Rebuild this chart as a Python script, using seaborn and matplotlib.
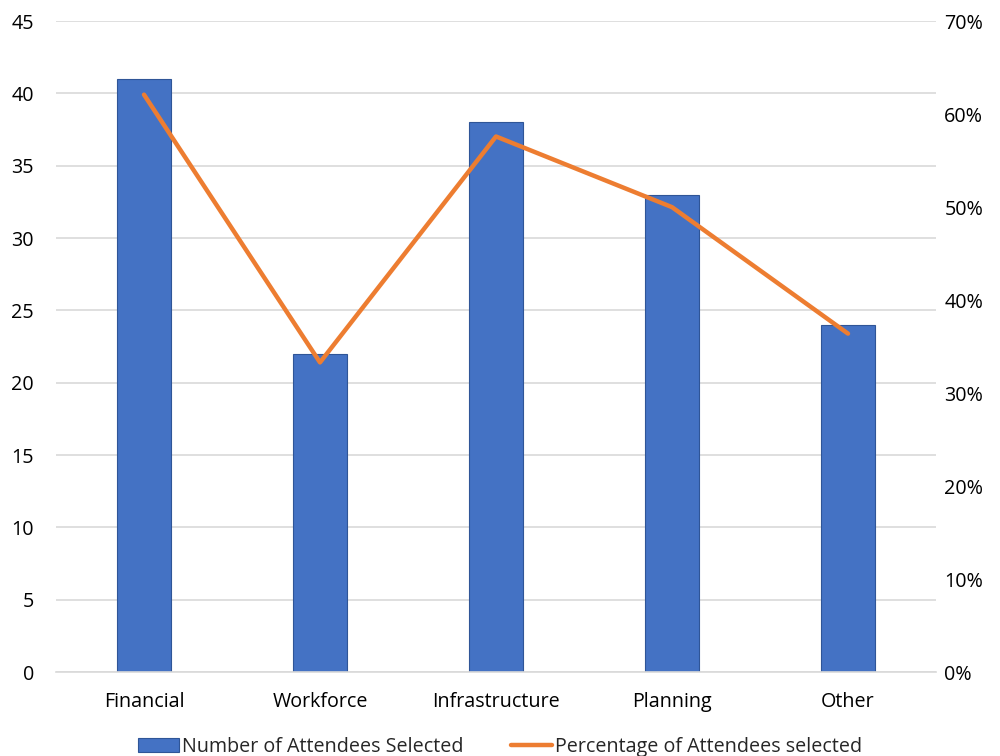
import matplotlib
matplotlib.use("Agg")
import matplotlib.pyplot as plt
import seaborn as sns
import pandas as pd
from matplotlib.ticker import PercentFormatter, MultipleLocator
from matplotlib.patches import Patch
from matplotlib.lines import Line2D

categories = ["Financial", "Workforce", "Infrastructure", "Planning", "Other"]
attendees = [41, 22, 38, 33, 24]
percentages = [62.1, 33.3, 57.6, 50.0, 36.4]

bar_label = "Number of Attendees Selected"
line_label = "Percentage of Attendees selected"

df = pd.DataFrame({"category": categories, "count": attendees, "pct": percentages})

sns.set_style("white")
plt.rcParams["font.family"] = ["Open Sans", "DejaVu Sans"]

fig = plt.figure(figsize=(10, 7.56), dpi=100)
ax = fig.add_axes([0.056, 0.111, 0.88, 0.861])

blue = "#4472C4"
orange = "#ED7D31"
fs = 14.2

sns.barplot(data=df, x="category", y="count", color=blue, width=0.31,
            edgecolor="#2F5597", linewidth=0.8, saturation=1, ax=ax, zorder=2)
ax.set_ylim(0, 45)
ax.set_xlim(-0.5, 4.5)
ax.yaxis.set_major_locator(MultipleLocator(5))
ax.grid(axis="y", color="#d9d9d9", linewidth=1.2, zorder=0)
ax.set_axisbelow(True)
ax.set_xlabel("")
ax.set_ylabel("")

ax2 = ax.twinx()
sns.lineplot(data=df, x="category", y="pct", color=orange, linewidth=3.2,
             sort=False, ax=ax2)
ax2.set_ylim(0, 70)
ax2.yaxis.set_major_locator(MultipleLocator(10))
ax2.yaxis.set_major_formatter(PercentFormatter(decimals=0))
ax2.set_ylabel("")
ax2.grid(False)

for a in (ax, ax2):
    for s in a.spines.values():
        s.set_visible(False)
    a.tick_params(length=0, labelsize=fs, colors="#000000")
ax.tick_params(axis="y", pad=16)
ax.tick_params(axis="x", pad=14)
ax2.tick_params(axis="y", pad=6)
ax.spines["bottom"].set_visible(True)
ax.spines["bottom"].set_color("#d9d9d9")
ax.spines["bottom"].set_linewidth(1.2)

handles = [Patch(facecolor=blue, edgecolor="#2F5597", linewidth=0.8),
           Line2D([0], [0], color=orange, linewidth=3.2)]
fig.legend(handles, [bar_label, line_label], loc="center",
           bbox_to_anchor=(0.5, 0.012), ncol=2, frameon=False, fontsize=fs,
           handlelength=2.1, handletextpad=0.15, columnspacing=2.4)

fig.savefig("out.png", dpi=100)
